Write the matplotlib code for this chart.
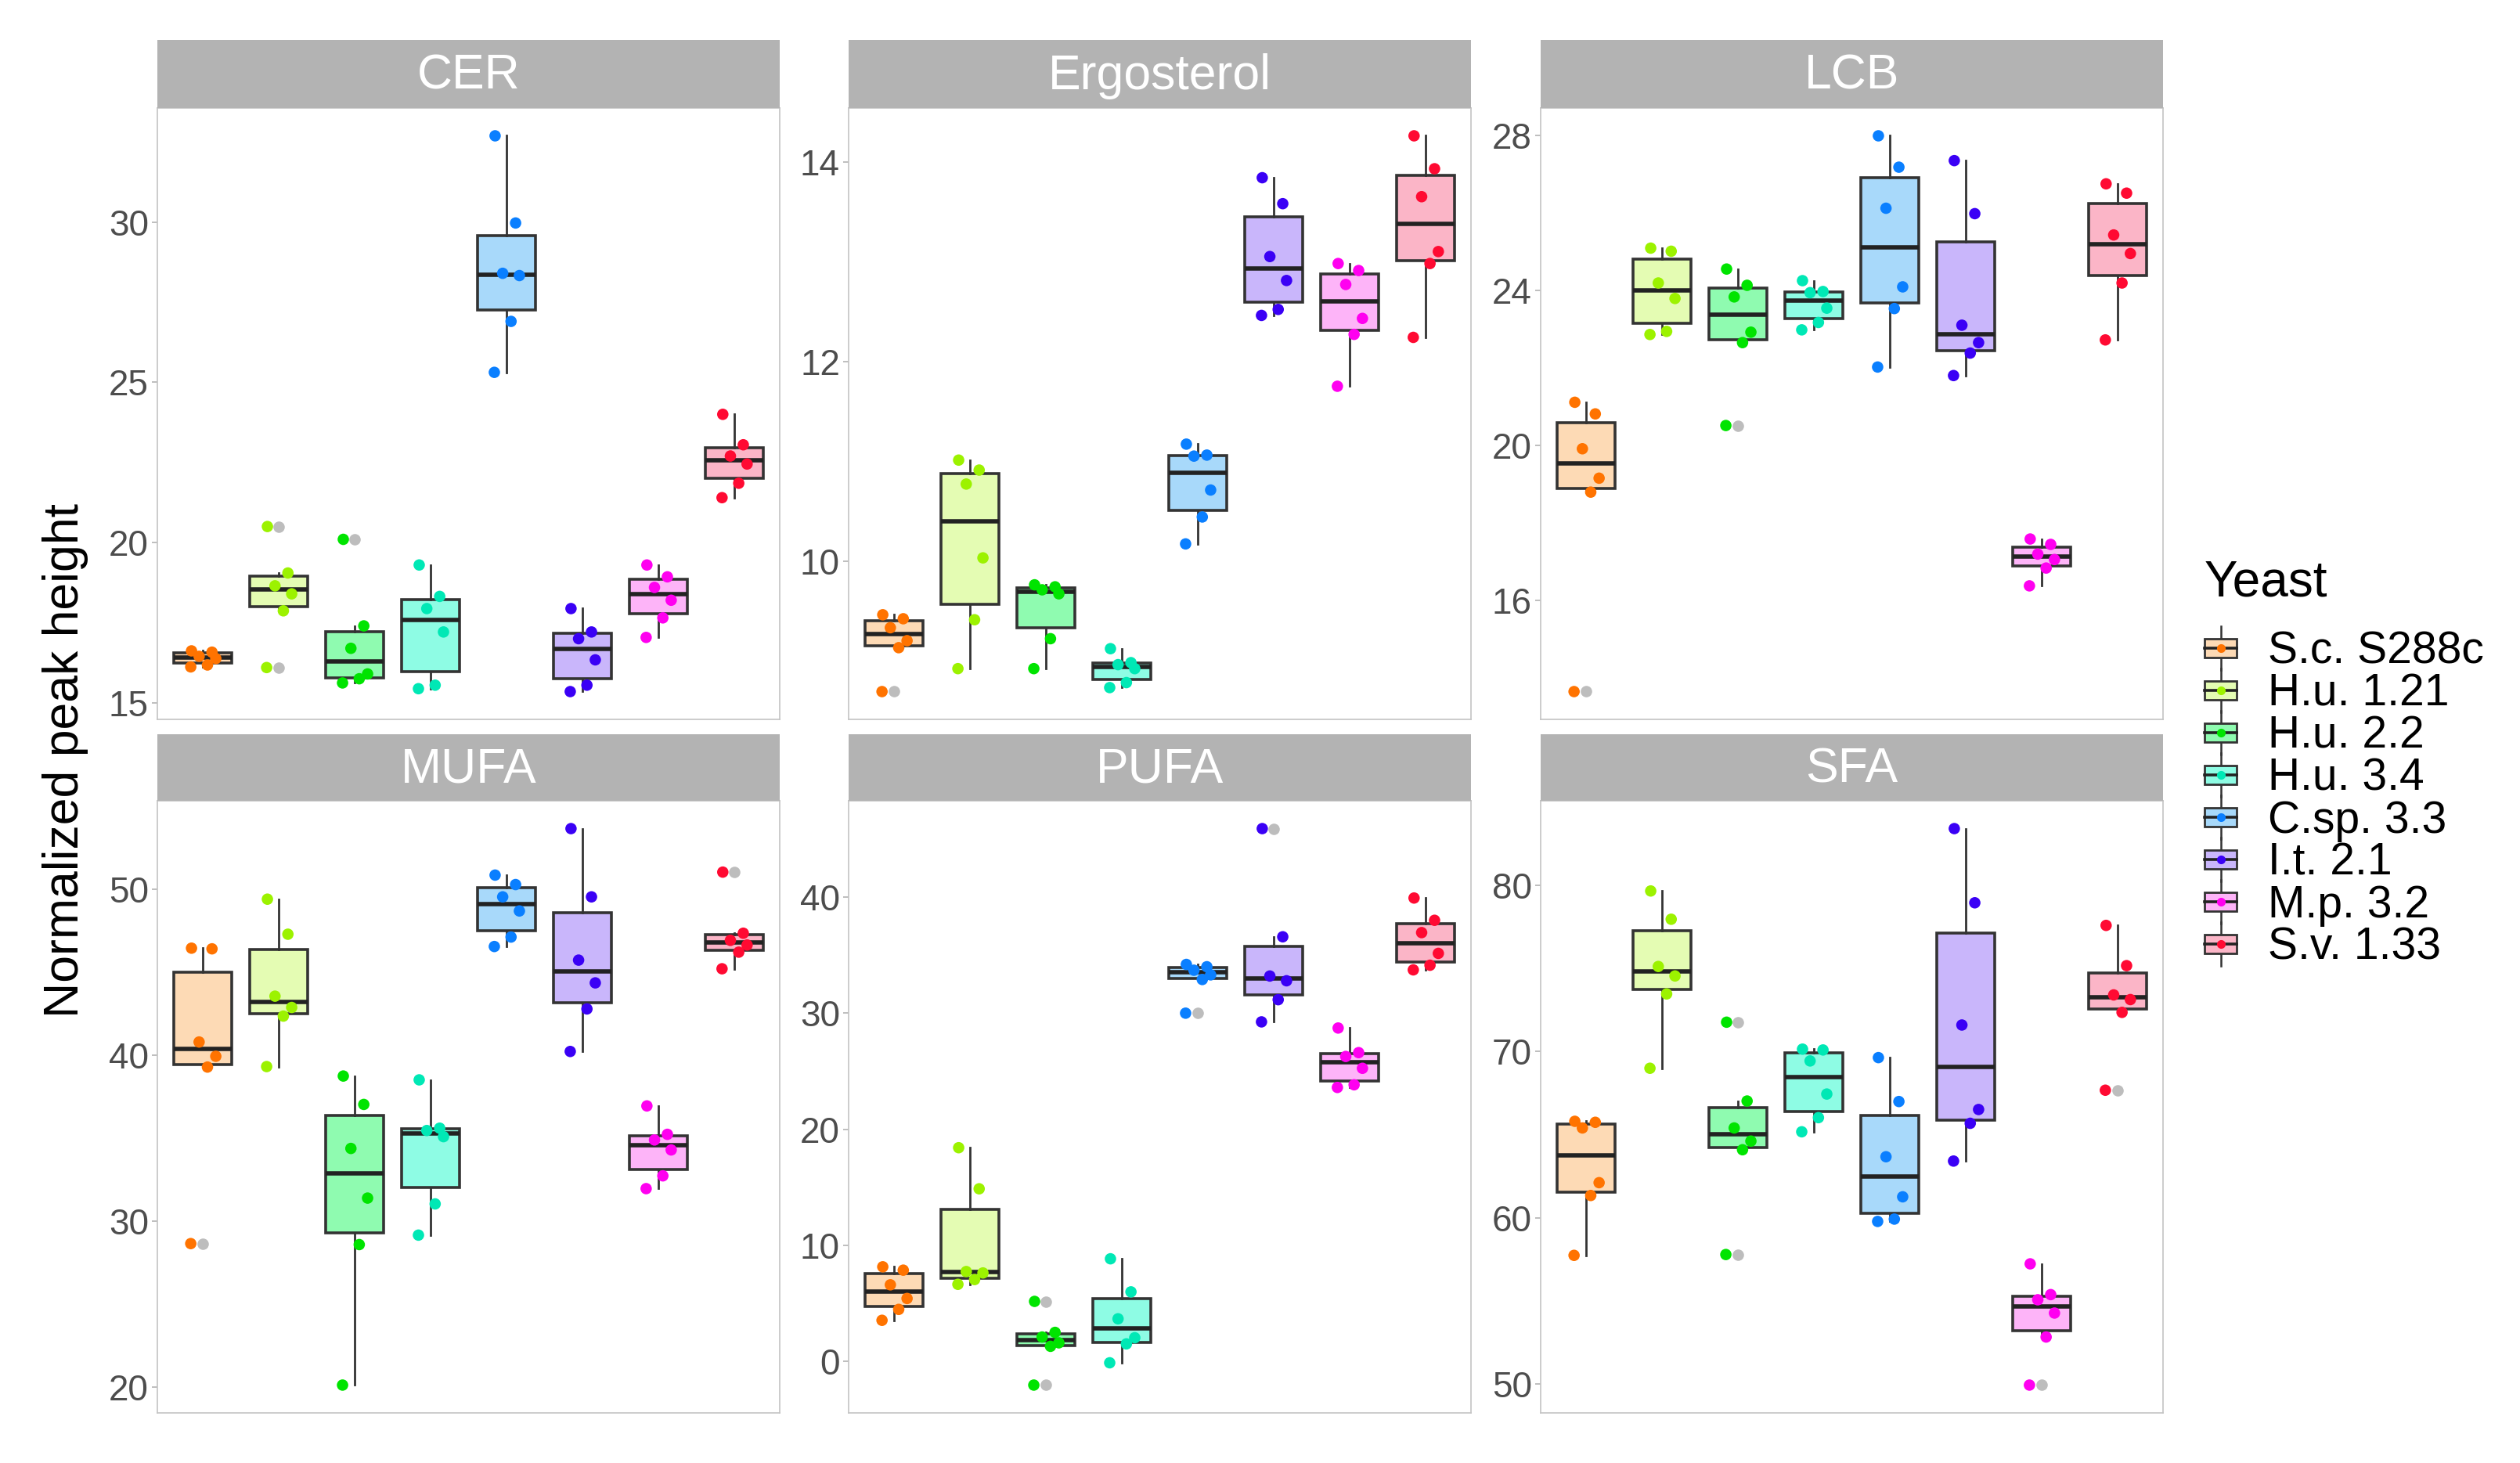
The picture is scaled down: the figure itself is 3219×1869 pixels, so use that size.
import numpy as np
import matplotlib
matplotlib.use("Agg")
import matplotlib.pyplot as plt
from matplotlib.legend_handler import HandlerBase
from matplotlib.patches import Rectangle
from matplotlib.lines import Line2D

plt.rcParams['font.family'] = ['Liberation Sans', 'DejaVu Sans']

# -------------------------------
# Data
# -------------------------------
strains = ["S.c. S288c", "H.u. 1.21", "H.u. 2.2", "H.u. 3.4",
           "C.sp. 3.3", "I.t. 2.1", "M.p. 3.2", "S.v. 1.33"]

point_colors = ['#FF7300', '#9CF200', '#00E400', '#00E8B5',
                '#0A7FFF', '#3A00F5', '#FF00F0', '#FF0A32']
fill_colors = ['#FDDAB5', '#E4FCB3', '#8FFBB0', '#8EFCE4',
               '#A8D9FA', '#C9B6FB', '#FDB4F8', '#FBB5C7']

panel_names = ["CER", "Ergosterol", "LCB", "MUFA", "PUFA", "SFA"]

cer_values = [
    [16.62, 16.58, 16.45, 16.38, 16.18, 16.12],
    [20.5, 19.05, 18.65, 18.4, 17.87, 16.1],
    [20.1, 17.4, 16.7, 15.9, 15.75, 15.62],
    [19.3, 18.32, 17.94, 17.21, 15.55, 15.44],
    [32.69, 29.97, 28.4, 28.33, 26.9, 25.31],
    [17.94, 17.21, 17.0, 16.34, 15.55, 15.35],
    [19.3, 18.93, 18.6, 18.2, 17.65, 17.04],
    [24.0, 23.05, 22.7, 22.45, 21.85, 21.4],
]
ergosterol_values = [
    [9.46, 9.42, 9.33, 9.2, 9.13, 8.69],
    [11.01, 10.91, 10.77, 10.03, 9.41, 8.92],
    [9.76, 9.74, 9.71, 9.67, 9.22, 8.92],
    [9.12, 8.98, 8.96, 8.92, 8.78, 8.73],
    [11.17, 11.06, 11.05, 10.71, 10.44, 10.17],
    [13.84, 13.58, 13.05, 12.81, 12.52, 12.46],
    [12.98, 12.91, 12.77, 12.43, 12.27, 11.75],
    [14.26, 13.93, 13.65, 13.10, 12.98, 12.24],
]
lcb_values = [
    [21.12, 20.82, 19.92, 19.16, 18.80, 13.65],
    [25.1, 25.02, 24.2, 23.8, 22.95, 22.87],
    [24.56, 24.14, 23.84, 22.93, 22.66, 20.52],
    [24.26, 23.98, 23.95, 23.55, 23.18, 22.99],
    [28.0, 27.19, 26.13, 24.1, 23.54, 22.03],
    [27.36, 25.99, 23.11, 22.66, 22.39, 21.81],
    [17.59, 17.45, 17.2, 17.06, 16.84, 16.38],
    [26.76, 26.52, 25.44, 24.96, 24.2, 22.73],
]
mufa_values = [
    [46.45, 46.41, 40.8, 39.94, 39.29, 28.66],
    [49.4, 47.29, 43.56, 42.88, 42.36, 39.32],
    [38.75, 37.04, 34.39, 31.4, 28.6, 20.14],
    [38.52, 35.61, 35.47, 35.1, 31.05, 29.17],
    [50.85, 50.28, 49.54, 48.69, 47.12, 46.55],
    [53.65, 49.54, 45.73, 44.36, 42.79, 40.23],
    [36.95, 35.24, 34.9, 34.3, 32.74, 31.97],
    [51.03, 47.35, 46.92, 46.64, 46.21, 45.21],
]
pufa_values = [
    [8.15, 7.86, 6.6, 5.42, 4.48, 3.54],
    [18.41, 14.87, 7.74, 7.62, 7.05, 6.64],
    [5.17, 2.5, 2.1, 1.6, 1.3, -2.04],
    [8.84, 5.99, 3.67, 2.04, 1.51, -0.12],
    [34.2, 34.0, 33.7, 33.3, 32.9, 30.0],
    [45.9, 36.58, 33.2, 32.79, 31.16, 29.25],
    [28.72, 26.6, 26.27, 25.25, 23.83, 23.6],
    [39.92, 38.0, 36.94, 35.15, 34.13, 33.73],
]
sfa_values = [
    [65.81, 65.75, 65.41, 62.12, 61.35, 57.75],
    [79.66, 77.96, 75.12, 74.55, 73.47, 69.0],
    [71.77, 67.03, 65.41, 64.62, 64.1, 57.8],
    [70.15, 70.1, 69.44, 67.45, 66.03, 65.18],
    [69.64, 67.0, 63.68, 61.27, 59.93, 59.79],
    [83.41, 78.95, 71.6, 66.52, 65.69, 63.42],
    [57.24, 55.39, 55.08, 54.28, 52.84, 49.95],
    [77.59, 75.17, 73.41, 73.13, 72.36, 67.68],
]

cer_ticks = [15, 20, 25, 30]
ergosterol_ticks = [10, 12, 14]
lcb_ticks = [16, 20, 24, 28]
mufa_ticks = [20, 30, 40, 50]
pufa_ticks = [0, 10, 20, 30, 40]
sfa_ticks = [50, 60, 70, 80]

panel_values = [cer_values, ergosterol_values, lcb_values,
                mufa_values, pufa_values, sfa_values]
panel_ticks = [cer_ticks, ergosterol_ticks, lcb_ticks,
               mufa_ticks, pufa_ticks, sfa_ticks]

# fixed horizontal jitter pattern for the points
JITTER = [-0.15, 0.12, -0.05, 0.17, 0.06, -0.16]

EDGE = '#333333'
BORDER = '#C4C4C4'
STRIP = '#B3B3B3'
OUTLIER = '#BDBDBD'

W, H = 3219, 1869


def draw_panel(ax, groups, ticks):
    pos = np.arange(1, len(groups) + 1)
    bp = ax.boxplot(groups, positions=pos, widths=0.76, patch_artist=True,
                    showcaps=False, whis=1.5,
                    boxprops=dict(edgecolor=EDGE, linewidth=2.6),
                    whiskerprops=dict(color=EDGE, linewidth=2.0),
                    medianprops=dict(color='#222222', linewidth=4.0),
                    flierprops=dict(marker='o', markerfacecolor=OUTLIER,
                                    markeredgecolor='none', markersize=10.5))
    for patch, fc in zip(bp['boxes'], fill_colors):
        patch.set_facecolor(fc)
    for i, vals in enumerate(groups):
        xs = pos[i] + np.array(JITTER[:len(vals)])
        ax.scatter(xs, vals, s=110, color=point_colors[i],
                   edgecolors='none', zorder=4)
    ax.set_xlim(0.4, len(groups) + 0.6)
    ax.set_xticks([])
    ax.set_yticks(ticks)
    ax.tick_params(axis='y', length=5, width=1.2, color='#B3B3B3',
                   labelsize=33, labelcolor='#4D4D4D', pad=3)
    for sp in ax.spines.values():
        sp.set_color(BORDER)
        sp.set_linewidth(1.2)


# -------------------------------
# Legend key: small boxplot glyph
# -------------------------------
class BoxKey:
    def __init__(self, fill, point):
        self.fill = fill
        self.point = point


class BoxKeyHandler(HandlerBase):
    def create_artists(self, legend, orig_handle, xdescent, ydescent,
                       width, height, fontsize, trans):
        x0, y0 = -xdescent, -ydescent
        cx, cy = x0 + width / 2, y0 + height / 2
        bh = height * 0.62
        whisk = Line2D([cx, cx], [cy - height * 0.72, cy + height * 0.72],
                       color=EDGE, lw=1.8, transform=trans)
        box = Rectangle((x0, cy - bh / 2), width, bh, facecolor=orig_handle.fill,
                        edgecolor=EDGE, lw=2.0, transform=trans)
        med = Line2D([x0, x0 + width], [cy, cy], color='#222222', lw=2.6,
                     transform=trans)
        dot = Line2D([cx], [cy], marker='o', markersize=8, color=orig_handle.point,
                     markeredgecolor='none', transform=trans)
        return [whisk, box, med, dot]


# -------------------------------
# Figure
# -------------------------------
fig = plt.figure(figsize=(W / 100, H / 100), dpi=100)

lefts = [201, 1084, 1968]
panel_w = 795
rows = [  # strip top, strip bottom, panel bottom (pixels from top)
    (51, 138, 919),
    (938, 1023, 1805),
]

for k, name in enumerate(panel_names):
    r, c = divmod(k, 3)
    s_top, s_bot, p_bot = rows[r]
    left = lefts[c] / W
    wid = panel_w / W
    ax = fig.add_axes([left, 1 - p_bot / H, wid, (p_bot - s_bot) / H])
    draw_panel(ax, panel_values[k], panel_ticks[k])

    sax = fig.add_axes([left, 1 - s_bot / H, wid, (s_bot - s_top) / H])
    sax.set_facecolor(STRIP)
    sax.set_xticks([])
    sax.set_yticks([])
    for sp in sax.spines.values():
        sp.set_visible(False)
    sax.text(0.5, 0.47, name, ha='center', va='center', color='white',
             fontsize=45, transform=sax.transAxes)

fig.text(84 / W, 1 - 971 / H, "Normalized peak height", rotation=90,
         ha='center', va='center', fontsize=45, color='black')

handles = [BoxKey(f, p) for f, p in zip(fill_colors, point_colors)]
leg = fig.legend(handles, strains, handler_map={BoxKey: BoxKeyHandler()},
                 loc='upper left', bbox_to_anchor=(2816 / W, 1 - 714 / H),
                 frameon=False, fontsize=41, title="Yeast", title_fontsize=46,
                 handlelength=0.72, handleheight=0.66, handletextpad=0.7,
                 labelspacing=0.0, borderpad=0, borderaxespad=0,
                 alignment='left')
# extra gap between the legend title and the first key
leg._legend_box.sep = 23

fig.savefig("out.png", dpi=100)
